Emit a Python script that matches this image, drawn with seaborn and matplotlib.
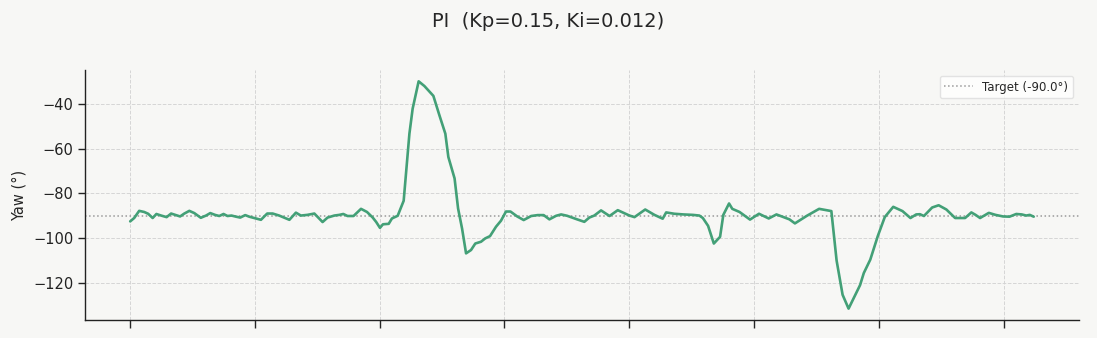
import matplotlib
matplotlib.use("Agg")
import matplotlib.pyplot as plt
import seaborn as sns
import pandas as pd

time_s = [0.00, 0.16, 0.36, 0.56, 0.72, 0.90, 1.05, 1.24, 1.46, 1.64, 1.80, 2.00, 2.17, 2.37, 2.57, 2.83,
          3.04, 3.21, 3.40, 3.57, 3.74, 3.90, 4.06, 4.24, 4.41, 4.61, 4.77, 4.97, 5.24, 5.49, 5.71, 5.97,
          6.38, 6.64, 6.84, 7.10, 7.38, 7.71, 7.91, 8.18, 8.38, 8.54, 8.71, 8.95, 9.25, 9.49, 9.72, 9.86,
          10.01, 10.13, 10.36, 10.49, 10.72, 10.96, 11.08, 11.19, 11.32, 11.56, 11.79, 12.15, 12.39, 12.63,
          12.75, 13.00, 13.14, 13.30, 13.46, 13.66, 13.83, 14.06, 14.23, 14.42, 14.66, 14.86, 15.06, 15.24,
          15.51, 15.77, 16.07, 16.33, 16.57, 16.80, 17.07, 17.27, 17.51, 17.91, 18.20, 18.40, 18.60, 18.87,
          19.21, 19.54, 19.74, 20.01, 20.21, 20.64, 21.01, 21.34, 21.48, 21.81, 22.17, 22.55, 22.81, 22.95,
          23.16, 23.39, 23.64, 23.77, 24.00, 24.13, 24.42, 24.84, 25.20, 25.59, 25.90, 26.42, 26.64, 27.12,
          27.61, 28.10, 28.31, 28.55, 28.79, 29.03, 29.25, 29.40, 29.66, 29.96, 30.24, 30.58, 30.95, 31.27,
          31.50, 31.65, 31.81, 32.14, 32.40, 32.71, 33.06, 33.46, 33.71, 33.88, 34.06, 34.41, 34.68, 34.98,
          35.24, 35.51, 35.73, 35.91, 36.05, 36.21]

yaw_deg = [-92.5, -91.0, -87.8, -88.3, -89.1, -91.0, -89.2, -89.9, -90.6, -89.0, -89.6, -90.3, -89.0, -87.8, -88.8, -90.9,
           -89.9, -88.8, -89.6, -90.1, -89.2, -90.1, -89.9, -90.4, -90.8, -89.7, -90.4, -91.0, -91.8, -89.0, -89.0, -89.9,
           -91.8, -88.6, -89.9, -89.6, -89.0, -92.8, -90.8, -89.9, -89.6, -89.2, -90.1, -90.1, -86.9, -88.3, -90.8, -92.8,
           -95.4, -93.8, -93.6, -91.2, -90.0, -83.3, -67.4, -53.3, -42.1, -29.9, -32.0, -36.4, -45.0, -53.3,
           -63.7, -73.3, -86.7, -95.7, -106.8, -105.3, -102.4, -101.6, -100.1, -99.1, -94.9, -92.2, -88.1, -88.1,
           -90.3, -91.9, -90.1, -89.7, -89.7, -91.6, -90.0, -89.4, -90.0, -91.6, -92.7, -90.8, -89.9, -87.6,
           -90.1, -87.5, -88.5, -89.9, -90.6, -87.2, -89.6, -91.3, -88.5, -89.1, -89.4, -89.6, -89.9, -91.0,
           -94.5, -102.4, -99.4, -89.6, -84.5, -86.9, -88.3, -91.7, -89.1, -91.2, -89.4, -91.6, -93.4, -90.0,
           -86.9, -87.9, -110.0, -125.3, -131.5, -126.0, -121.0, -115.6, -109.6, -99.1, -90.6, -86.0, -87.9, -91.0,
           -89.4, -89.3, -90.1, -86.3, -85.3, -87.2, -91.0, -91.0, -88.5, -89.6, -91.0, -88.7, -89.6, -90.3,
           -90.4, -89.2, -89.4, -89.9, -89.6, -90.4]

target_yaw = -90.0
x_ticks = [0, 5, 10, 15, 20, 25, 30, 35]
title_text = "PI  (Kp=0.15, Ki=0.012)"

df = pd.DataFrame({"t": time_s, "yaw": yaw_deg})

bg = "#f7f7f5"
sns.set_style("ticks")
plt.rcParams["font.family"] = ["DejaVu Sans"]

fig = plt.figure(figsize=(10.97, 3.38), dpi=100, facecolor=bg)
ax = fig.add_axes([0.0775, 0.0533, 0.906, 0.7397])
ax.set_facecolor(bg)

sns.lineplot(data=df, x="t", y="yaw", ax=ax, color="#43a077", linewidth=1.9, zorder=3)
ax.axhline(target_yaw, color="#9a9a9a", linestyle=":", linewidth=1.1, zorder=2,
           label=f"Target ({target_yaw:.1f}°)")

ax.set_xticks(x_ticks)
ax.tick_params(axis="x", labelbottom=False, length=6, width=1.0)
ax.tick_params(axis="y", labelsize=10.5, length=5, width=1.0, colors="#222222")
ax.set_xlabel("")
ax.set_ylabel("Yaw (°)", fontsize=10.5, labelpad=5)
ax.grid(True, linestyle="--", color="#d2d2d2", linewidth=0.7, alpha=0.9)
sns.despine(ax=ax)
for s in ["left", "bottom"]:
    ax.spines[s].set_color("#222222")
    ax.spines[s].set_linewidth(1.0)

leg = ax.legend(loc="upper right", fontsize=8.5, frameon=True, handlelength=2.4,
                borderpad=0.4)
leg.get_frame().set_facecolor("white")
leg.get_frame().set_edgecolor("#dddddd")

fig.suptitle(title_text, fontsize=14, y=0.965)

fig.savefig("out.png", dpi=100, facecolor=bg)
